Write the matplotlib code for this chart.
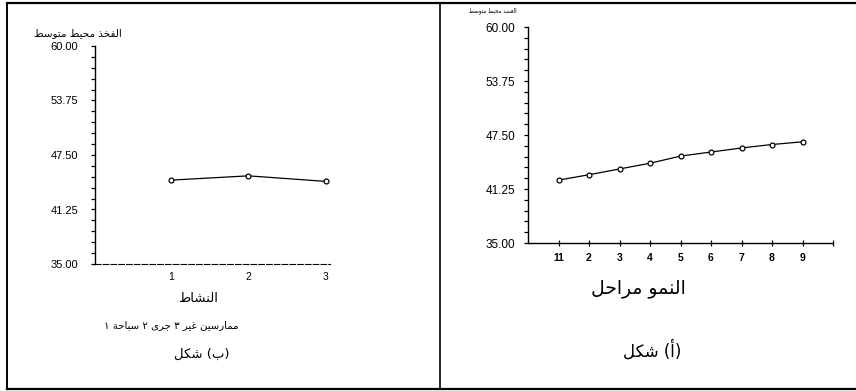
import matplotlib.pyplot as plt
from matplotlib.lines import Line2D
from matplotlib.ticker import MultipleLocator, FixedLocator

# data
activity = [1, 2, 3]
activity_labels = ['1', '2', '3']
thigh_mean = [44.62, 45.11, 44.47]

stages = [1, 2, 3, 4, 5, 6, 7, 8, 9]
stage_labels = ['11', '2', '3', '4', '5', '6', '7', '8', '9']
arm_mean = [42.28, 42.90, 43.57, 44.23, 45.06, 45.53, 46.00, 46.40, 46.71]

y_ticks = [35.00, 41.25, 47.50, 53.75, 60.00]

# texts
left_ylabel = 'متوسط محيط الفخذ'
left_xlabel = 'النشاط'
left_caption = '١ سباحة ٢ جرى ٣ غير ممارسين'
left_title = 'شكل (ب)'
right_ylabel = 'متوسط محيط العضد'
right_xlabel = 'مراحل النمو'
right_title = 'شكل (أ)'

# minimal arabic shaping (this matplotlib draws no joined arabic by itself)
DUAL = {'ب': 0xFE8F, 'ت': 0xFE95, 'ث': 0xFE99, 'ج': 0xFE9D, 'ح': 0xFEA1,
        'خ': 0xFEA5, 'س': 0xFEB1, 'ش': 0xFEB5, 'ص': 0xFEB9, 'ض': 0xFEBD,
        'ط': 0xFEC1, 'ظ': 0xFEC5, 'ع': 0xFEC9, 'غ': 0xFECD, 'ف': 0xFED1,
        'ق': 0xFED5, 'ك': 0xFED9, 'ل': 0xFEDD, 'م': 0xFEE1, 'ن': 0xFEE5,
        'ه': 0xFEE9, 'ي': 0xFEF1}
RIGHT = {'ا': 0xFE8D, 'أ': 0xFE83, 'إ': 0xFE87, 'آ': 0xFE81, 'د': 0xFEA9,
         'ذ': 0xFEAB, 'ر': 0xFEAD, 'ز': 0xFEAF, 'و': 0xFEED, 'ى': 0xFEEF,
         'ة': 0xFE93}
LAM_ALEF = {'ا': 0xFEFB, 'أ': 0xFEF7, 'إ': 0xFEF9, 'آ': 0xFEF5}
MIRROR = {'(': ')', ')': '('}


def shape_word(word):
    chars = []
    i = 0
    while i < len(word):
        c = word[i]
        if c == 'ل' and i + 1 < len(word) and word[i + 1] in LAM_ALEF:
            chars.append(('R', LAM_ALEF[word[i + 1]]))
            i += 2
            continue
        if c in DUAL:
            chars.append(('D', DUAL[c]))
        elif c in RIGHT:
            chars.append(('R', RIGHT[c]))
        else:
            chars.append(('N', c))
        i += 1
    out = []
    for k, (kind, base) in enumerate(chars):
        if kind == 'N':
            out.append(MIRROR.get(base, base))
            continue
        prev_joins = k > 0 and chars[k - 1][0] == 'D'
        next_joins = kind == 'D' and k + 1 < len(chars) and chars[k + 1][0] in 'DR'
        if prev_joins and next_joins:
            form = 3
        elif prev_joins:
            form = 1
        elif next_joins:
            form = 2
        else:
            form = 0
        out.append(chr(base + form))
    return ''.join(reversed(out))


def ar(text):
    # words keep the left-to-right order seen in the scan
    return ' '.join(shape_word(w) for w in text.split(' '))


AR_FONT = ['DejaVu Sans']
NUM_FONT = ['Liberation Sans', 'DejaVu Sans']

fig = plt.figure(figsize=(8.56, 3.91), dpi=100)


def style_axes(ax, size, pad):
    for s in ['top', 'right']:
        ax.spines[s].set_visible(False)
    ax.spines['left'].set_linewidth(1.0)
    ax.yaxis.set_major_locator(FixedLocator(y_ticks))
    ax.yaxis.set_minor_locator(MultipleLocator(1.25))
    ax.set_yticklabels(['%.2f' % v for v in y_ticks], fontfamily=NUM_FONT, fontsize=size)
    ax.tick_params(axis='y', which='major', length=3, width=0.9, pad=pad, direction='out')
    ax.tick_params(axis='y', which='minor', length=3, width=0.9, direction='out')
    ax.set_ylim(35, 60)


# left panel (b)
axb = fig.add_axes([95 / 856, 1 - 264 / 391, 310 / 856, 218 / 391])
axb.plot(activity, thigh_mean, color='black', lw=0.9, marker='o', ms=3.5,
         mfc='white', mec='black', mew=0.9)
style_axes(axb, 8, 9)
axb.set_xlim(0.02, 4.02)
axb.set_xticks(activity)
axb.set_xticklabels(activity_labels, fontfamily=NUM_FONT, fontsize=7.5)
axb.tick_params(axis='x', length=0, pad=6)
axb.spines['bottom'].set_linestyle((0, (5, 2)))
axb.spines['bottom'].set_linewidth(0.8)
axb.spines['bottom'].set_bounds(0.02, 3.05)

fig.text(78 / 856, 1 - 33 / 391, ar(left_ylabel), family=AR_FONT, fontsize=7.5,
         ha='center', va='center')
fig.text(198 / 856, 1 - 298 / 391, ar(left_xlabel), family=AR_FONT, fontsize=9.5,
         ha='center', va='center')
fig.text(171 / 856, 1 - 325 / 391, ar(left_caption), family=AR_FONT, fontsize=7.3,
         ha='center', va='center')
fig.text(202 / 856, 1 - 354 / 391, ar(left_title), family=AR_FONT, fontsize=9.5,
         ha='center', va='center')

# right panel (a)
axa = fig.add_axes([528 / 856, 1 - 243 / 391, 305 / 856, 216 / 391])
axa.plot(stages, arm_mean, color='black', lw=0.9, marker='o', ms=3.5,
         mfc='white', mec='black', mew=0.9)
style_axes(axa, 8.5, 6)
axa.set_xlim(0, 10)
axa.set_xticks(stages + [10])
axa.set_xticklabels(stage_labels + [''], fontfamily=NUM_FONT, fontsize=7.5,
                    fontweight='bold')
axa.tick_params(axis='x', length=4, width=0.9, direction='inout', pad=5)
axa.spines['bottom'].set_linewidth(1.0)

fig.text(493 / 856, 1 - 11 / 391, ar(right_ylabel), family=AR_FONT, fontsize=4,
         ha='center', va='center')
fig.text(638 / 856, 1 - 289 / 391, ar(right_xlabel), family=AR_FONT, fontsize=13.5,
         ha='center', va='center')
fig.text(652 / 856, 1 - 350 / 391, ar(right_title), family=AR_FONT, fontsize=12,
         ha='center', va='center')

# page frame lines of the scan
for xs, ys, lw in [([7, 856], [3, 3], 1.6), ([7, 856], [389, 389], 1.6),
                   ([7, 7], [3, 389], 1.4), ([440, 440], [3, 389], 1.2)]:
    fig.add_artist(Line2D([x / 856 for x in xs], [1 - y / 391 for y in ys],
                          color='black', lw=lw, transform=fig.transFigure))

fig.savefig('out.png', dpi=100)
